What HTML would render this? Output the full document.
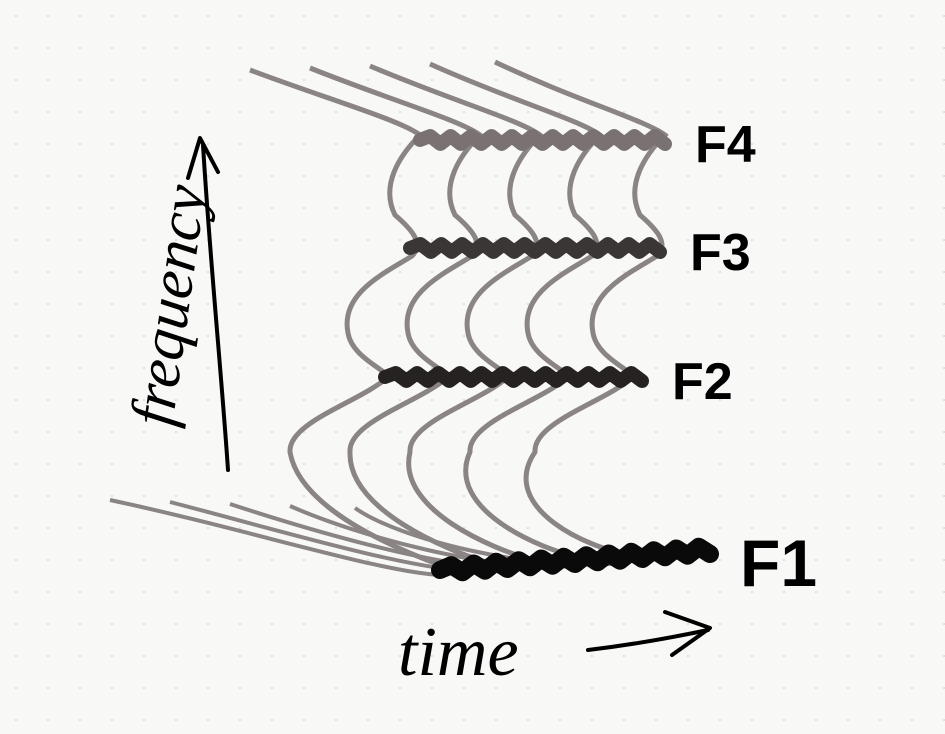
<!DOCTYPE html>
<html><head><meta charset="utf-8"><style>
html,body{margin:0;padding:0;background:#f8f8f7;}
svg{display:block;font-family:"Liberation Sans",sans-serif;}
</style></head><body>
<svg id="chart" width="945" height="734" viewBox="0 0 945 734">
<defs><pattern id="dots" width="32" height="32" patternUnits="userSpaceOnUse"><circle cx="16" cy="16" r="1.1" fill="#ddd"/></pattern></defs>
<rect width="945" height="734" fill="#f8f8f7"/>
<rect width="945" height="734" fill="url(#dots)"/>
<g id="curves"></g>
<g id="bands"></g>
<g id="labels"></g>
<g>
<path d="M228,470 C222,380 210,260 203,145" fill="none" stroke="#000" stroke-width="4" stroke-linecap="round"/>
<path d="M188,178 L200,138 L218,172" fill="none" stroke="#000" stroke-width="4" stroke-linecap="round" stroke-linejoin="round"/>
<text x="0" y="0" transform="translate(172,428) rotate(-82)" font-size="62" font-style="italic" fill="#000" font-family="Liberation Serif,serif">frequency</text>
</g>
<g>
<text x="398" y="675" font-size="70" font-style="italic" fill="#000" font-family="Liberation Serif,serif">time</text>
<path d="M588,650 C630,645 670,638 708,630" fill="none" stroke="#000" stroke-width="4" stroke-linecap="round"/>
<path d="M665,612 L710,628 L672,655" fill="none" stroke="#000" stroke-width="4" stroke-linecap="round" stroke-linejoin="round"/>
</g>
</svg>
<script>
const curveOffsets = [0, 60, 120, 180, 245];
const formantNames = ["F4", "F3", "F2", "F1"];
const formantY = [140, 248, 377, 560];
const formantStart = [420, 410, 385, 440];
const formantEnd = [665, 660, 642, 710];
const formantColor = ["#7a7272", "#3a3636", "#262222", "#0a0a0a"];
const ns = "http://www.w3.org/2000/svg";
const cg = document.getElementById("curves");
const bg = document.getElementById("bands");
const lg = document.getElementById("labels");
curveOffsets.forEach((dx, i) => {
  const f4 = formantY[0], f3 = formantY[1], f2 = formantY[2], f1 = formantY[3];
  const d = `M${250+dx},${70-i*2} C${330+dx},${100} ${400+dx},${f4-20} ${420+dx},${f4-5}
    C${400+dx},${f4+15} ${380+dx},${f4+45} ${395+dx},${f4+75} C${410+dx},${f3-20} ${425+dx},${f3-5} ${412+dx},${f3+8}
    C${385+dx},${f3+25} ${340+dx},${f3+45} ${348+dx},${f3+85} C${352+dx},${f2-20} ${385+dx},${f2-8} ${388+dx},${f2}
    C${360+dx},${f2+25} ${288+dx},${f2+45} ${290+dx},${f2+75} C${300+dx*0.8},${f1-50} ${400+dx*0.8},${f1-10} ${440+dx*0.75},${f1+5+i*-3}`;
  const p = document.createElementNS(ns, "path");
  
  
  p.setAttribute("d", d);
  p.setAttribute("fill", "none");
  p.setAttribute("stroke", "#8a8484");
  p.setAttribute("stroke-width", "5");
  cg.appendChild(p);
  const q = document.createElementNS(ns, "path");
  
  
  q.setAttribute("d", `M${110+dx},${500+i*2} C${250+dx*0.6},${530+i*2} ${380+dx*0.6},${f1+12} ${440+dx*0.75},${f1+15-i*3}`);
  q.setAttribute("fill", "none");
  q.setAttribute("stroke", "#8a8484");
  q.setAttribute("stroke-width", "4");
  cg.appendChild(q);
});
formantNames.forEach((n, i) => {
  const x0 = formantStart[i], x1 = formantEnd[i], y = formantY[i];
  const slope = i === 3 ? -20 : 0;
  let d = `M${x0},${y+(i===3?10:0)}`;
  const steps = 24;
  for (let k = 1; k <= steps; k++) {
    const x = x0 + (x1 - x0) * k / steps;
    const yy = y + (i===3?10:0) + slope * k / steps + (k % 2 ? -4 : 4);
    d += ` L${x.toFixed(1)},${yy.toFixed(1)}`;
  }
  const p = document.createElementNS(ns, "path");
  
  
  p.setAttribute("d", d);
  p.setAttribute("fill", "none");
  p.setAttribute("stroke", formantColor[i]);
  p.setAttribute("stroke-width", i === 3 ? "18" : "14");
  p.setAttribute("stroke-linejoin", "round");
  p.setAttribute("stroke-linecap", "round");
  bg.appendChild(p);
  const t = document.createElementNS(ns, "text");
  
  
  t.setAttribute("x", x1 + 30);
  t.setAttribute("y", y + (i === 3 ? 26 : 22));
  t.setAttribute("font-size", i === 3 ? "66" : "52");
  t.setAttribute("font-weight", "bold");
  t.setAttribute("fill", "#000");
  t.textContent = n;
  lg.appendChild(t);
});
</script>
</body></html>
